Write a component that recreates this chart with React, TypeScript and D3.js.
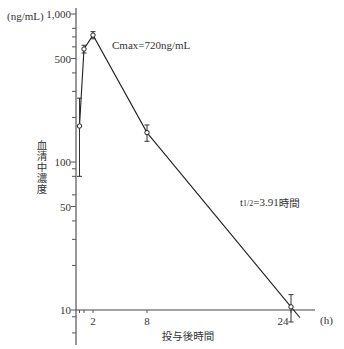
import React from "react";
import * as d3 from "d3";

const times = [0.5, 1, 2, 8, 24];
const means = [175, 580, 720, 158, 10.5];
const sds = [95, 35, 40, 20, 2.2];
const majorTicks = [10, 50, 100, 500, 1000];
const majorLabels = ["10", "50", "100", "500", "1,000"];
const minorTicks = [7, 9, 20, 30, 40, 60, 80, 90, 200, 300, 400, 600, 700, 800];
const xTicks = [0.5, 1, 2, 8, 24];
const xLabelTicks = [2, 8, 24];
const extendTo = 25;

const W = 344;
const H = 349;
const serif = "'Liberation Serif', 'DejaVu Serif', serif";
const cjk = "'Noto Sans CJK JP', sans-serif";
const textColor = "#333";

export default function App() {
  const x = d3.scaleLinear().domain([0, 24]).range([75, 291]);
  const y = d3.scaleLog().domain([10, 1000]).range([310, 14]);
  const axisX = 76;
  const axisY = y(10);

  // extrapolate last segment in log space
  const n = times.length;
  const slope =
    (Math.log10(means[n - 1]) - Math.log10(means[n - 2])) / (times[n - 1] - times[n - 2]);
  const extVal = Math.pow(10, Math.log10(means[n - 1]) + slope * (extendTo - times[n - 1]));
  const pts: [number, number][] = times.map((t, i) => [t, means[i]]);
  pts.push([extendTo, extVal]);
  const line = d3
    .line<[number, number]>()
    .x((d) => x(d[0]))
    .y((d) => y(d[1]));

  return (
    <svg
      width={W}
      height={H}
      style={{ position: "absolute", left: 0, top: 0, background: "#fff" }}
    >
      {/* axes */}
      <line x1={axisX} x2={axisX} y1={8} y2={345} stroke="#555" strokeWidth={1.2} />
      <line x1={axisX} x2={315} y1={axisY} y2={axisY} stroke="#444" strokeWidth={1.2} />
      {majorTicks.map((v, i) => (
        <g key={"M" + v}>
          <line x1={axisX - 5} x2={axisX} y1={y(v)} y2={y(v)} stroke="#555" />
          <text
            x={axisX - 5}
            y={y(v)}
            textAnchor="end"
            dominantBaseline="central"
            fontFamily={serif}
            fontSize={11}
            fill={textColor}
          >
            {majorLabels[i]}
          </text>
        </g>
      ))}
      {minorTicks.map((v) => (
        <line key={"m" + v} x1={axisX - 4} x2={axisX} y1={y(v)} y2={y(v)} stroke="#555" />
      ))}
      {xTicks.map((t) => (
        <line key={"xt" + t} x1={x(t)} x2={x(t)} y1={axisY} y2={axisY + 3} stroke="#555" />
      ))}
      {xLabelTicks.map((t) => (
        <text
          key={"xl" + t}
          x={t === 24 ? x(t) - 8 : x(t)}
          y={axisY + 11}
          textAnchor="middle"
          dominantBaseline="central"
          fontFamily={serif}
          fontSize={11}
          fill={textColor}
        >
          {t}
        </text>
      ))}

      {/* data line */}
      <path d={line(pts) || ""} fill="none" stroke="#222" strokeWidth={1.1} />

      {/* error bars */}
      {times.map((t, i) => {
        const hi = y(means[i] + sds[i]);
        const lo = y(means[i] - sds[i]);
        const cx = x(t);
        return (
          <g key={"e" + t} stroke="#333" strokeWidth={1}>
            <line x1={cx} x2={cx} y1={hi} y2={lo} />
            <line x1={cx - 2.5} x2={cx + 2.5} y1={hi} y2={hi} />
            <line x1={cx - 2.5} x2={cx + 2.5} y1={lo} y2={lo} />
          </g>
        );
      })}
      {times.map((t, i) => (
        <circle
          key={"c" + t}
          cx={x(t)}
          cy={y(means[i])}
          r={2.2}
          fill="#fff"
          stroke="#222"
          strokeWidth={1}
        />
      ))}

      {/* annotations */}
      <text x={7} y={16} dominantBaseline="central" fontFamily={serif} fontSize={11} fill={textColor}>
        (ng/mL)
      </text>
      <text x={112} y={45} dominantBaseline="central" fontFamily={serif} fontSize={11} fill={textColor}>
        Cmax=720ng/mL
      </text>
      <text x={240} y={202} dominantBaseline="central" fontFamily={serif} fontSize={11} fill={textColor}>
        t
        <tspan fontSize={8} dy={1}>1/2</tspan>
        <tspan dy={-1}>=3.91</tspan>
        <tspan fontFamily={cjk} fontSize={10.5}>時間</tspan>
      </text>
      <text x={320} y={320} dominantBaseline="central" fontFamily={serif} fontSize={11} fill={textColor}>
        (h)
      </text>
      <text
        x={188}
        y={335}
        textAnchor="middle"
        dominantBaseline="central"
        fontFamily={cjk}
        fontSize={10.5}
        fill={textColor}
      >
        投与後時間
      </text>
      <text
        x={42}
        y={140}
        textAnchor="start"
        fontFamily={cjk}
        fontSize={10.5}
        letterSpacing={0.5}
        fill={textColor}
        style={{ writingMode: "vertical-rl", textOrientation: "upright" } as React.CSSProperties}
      >
        血清中濃度
      </text>
    </svg>
  );
}
